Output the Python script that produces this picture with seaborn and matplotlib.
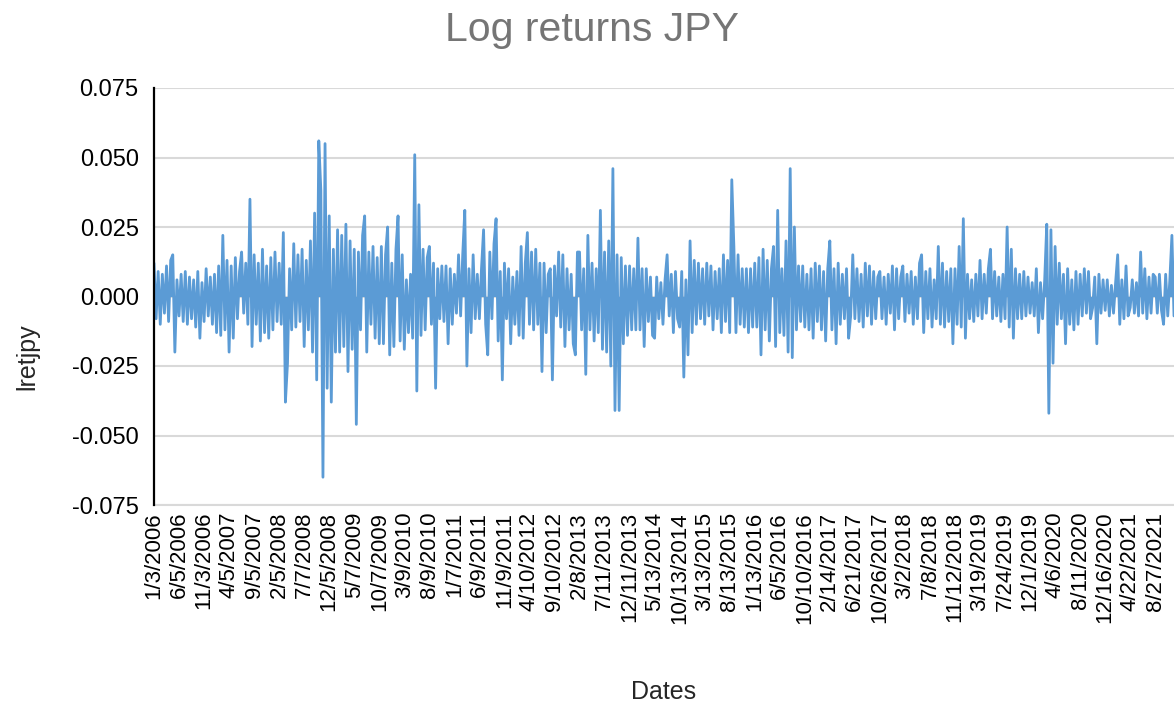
import matplotlib
matplotlib.use("Agg")

import matplotlib.pyplot as plt
import seaborn as sns

# ── data (one row per x-axis label interval) ─────────────────────────────
tick_dates = [
    "1/3/2006", "6/5/2006", "11/3/2006", "4/5/2007", "9/5/2007", "2/5/2008",
    "7/7/2008", "12/5/2008", "5/7/2009", "10/7/2009", "3/9/2010", "8/9/2010",
    "1/7/2011", "6/9/2011", "11/9/2011", "4/10/2012", "9/10/2012", "2/8/2013",
    "7/11/2013", "12/11/2013", "5/13/2014", "10/13/2014", "3/13/2015",
    "8/13/2015", "1/13/2016", "6/5/2016", "10/10/2016", "2/14/2017",
    "6/21/2017", "10/26/2017", "3/2/2018", "7/8/2018", "11/12/2018",
    "3/19/2019", "7/24/2019", "12/1/2019", "4/6/2020", "8/11/2020",
    "12/16/2020", "4/22/2021", "8/27/2021",
]

lretjpy = [
    0.012, -0.008, 0.009, -0.010, 0.008, -0.006, 0.011, -0.009, 0.013, 0.015, -0.020, 0.006,
    -0.007, 0.008, -0.009, 0.009, -0.010, 0.007, -0.008, 0.006, -0.011, 0.009, -0.015, 0.005,
    -0.009, 0.010, -0.007, 0.007, -0.010, 0.008, -0.013, 0.011, -0.014, 0.022, -0.012, 0.013,
    -0.020, 0.011, -0.015, 0.014, -0.008, 0.009, 0.016, -0.006, 0.012, -0.010, 0.035, -0.018,
    0.015, -0.010, 0.012, -0.016, 0.017, -0.013, 0.011, -0.015, 0.014, -0.012, 0.016, -0.009,
    0.012, -0.010, 0.023, -0.038, -0.024, 0.010, -0.012, 0.019, -0.011, 0.015, -0.009, 0.017,
    -0.018, 0.013, -0.012, 0.020, -0.020, 0.030, -0.030, 0.056, 0.038, -0.065, 0.055, -0.033,
    0.029, -0.038, 0.017, -0.020, 0.024, -0.020, 0.022, -0.018, 0.026, -0.027, 0.020, -0.019,
    0.017, -0.046, 0.016, -0.012, 0.022, 0.029, -0.020, 0.016, -0.010, 0.018, -0.015, 0.014,
    -0.017, 0.018, -0.017, 0.015, 0.025, -0.021, 0.012, -0.018, 0.017, 0.029, -0.016, 0.015,
    -0.019, 0.006, -0.013, 0.008, -0.015, 0.051, -0.034, 0.033, -0.014, 0.017, -0.012, 0.014,
    0.018, -0.010, 0.012, -0.033, 0.010, -0.008, 0.011, -0.009, 0.011, -0.017, 0.010, -0.010,
    0.008, -0.006, 0.015, -0.007, 0.015, 0.031, -0.025, 0.010, -0.013, 0.015, -0.008, 0.008,
    -0.008, 0.010, 0.024, -0.010, -0.021, 0.016, -0.008, 0.019, 0.028, -0.016, 0.009, -0.030,
    0.012, -0.008, 0.010, -0.017, 0.007, -0.010, 0.009, -0.014, 0.018, -0.015, 0.012, 0.023,
    -0.010, 0.016, -0.012, 0.017, -0.010, 0.012, -0.027, 0.012, -0.013, 0.008, 0.010, -0.030,
    0.011, -0.007, 0.016, -0.011, 0.015, -0.018, 0.010, -0.012, 0.008, -0.017, -0.021, 0.016,
    0.016, -0.012, 0.010, -0.028, 0.022, -0.012, 0.012, -0.016, 0.010, -0.013, 0.031, -0.019,
    0.016, -0.020, 0.020, -0.025, 0.046, -0.041, 0.015, -0.041, 0.014, -0.017, 0.011, -0.014,
    0.011, -0.012, 0.010, -0.012, 0.021, -0.012, 0.010, -0.018, 0.010, -0.009, 0.007, -0.014,
    -0.015, 0.007, -0.008, 0.005, -0.010, 0.006, 0.015, -0.007, 0.008, -0.013, 0.009, -0.008,
    -0.011, 0.009, -0.029, 0.006, -0.021, 0.020, -0.013, 0.013, -0.010, 0.012, -0.008, 0.010,
    -0.010, 0.012, -0.007, 0.011, -0.012, 0.009, -0.008, 0.010, -0.013, 0.015, -0.009, 0.013,
    -0.013, 0.042, 0.018, -0.013, 0.015, -0.010, 0.010, -0.011, 0.010, -0.013, 0.010, -0.011,
    0.012, -0.011, 0.014, -0.021, 0.017, -0.012, 0.013, -0.016, 0.010, 0.018, -0.018, 0.031,
    -0.013, 0.010, -0.014, 0.020, -0.020, 0.046, -0.022, 0.025, -0.012, 0.011, -0.009, 0.011,
    -0.011, 0.008, -0.012, 0.010, -0.015, 0.012, -0.009, 0.011, -0.012, 0.009, -0.016, 0.010,
    0.020, -0.012, 0.010, -0.017, 0.012, -0.010, 0.008, -0.008, 0.010, -0.015, -0.007, 0.015,
    -0.008, 0.010, -0.009, 0.008, -0.011, 0.012, -0.007, 0.011, -0.010, 0.009, -0.008, 0.007,
    0.009, -0.008, 0.007, -0.010, 0.008, -0.006, 0.011, -0.012, 0.010, -0.008, 0.007, 0.011,
    -0.009, 0.008, -0.006, 0.009, -0.010, 0.007, -0.008, 0.012, 0.015, -0.013, 0.009, -0.008,
    0.010, -0.011, 0.006, -0.008, 0.018, -0.010, 0.012, -0.011, 0.009, -0.009, 0.010, -0.017,
    0.010, -0.010, 0.018, -0.011, 0.028, -0.015, 0.008, -0.008, 0.006, -0.009, 0.008, -0.007,
    0.013, -0.008, 0.008, -0.006, 0.010, 0.017, -0.008, 0.009, -0.007, 0.007, -0.009, 0.008,
    -0.008, 0.025, -0.011, 0.017, -0.015, 0.010, -0.008, 0.008, -0.008, 0.009, -0.007, 0.007,
    -0.006, 0.005, -0.007, 0.010, -0.013, 0.005, -0.008, 0.006, 0.026, -0.042, 0.024, -0.024,
    0.018, -0.010, 0.012, -0.008, 0.008, -0.017, 0.010, -0.010, 0.006, -0.012, 0.009, -0.010,
    0.008, -0.007, 0.010, -0.006, 0.009, -0.008, -0.004, 0.007, -0.017, 0.008, -0.006, 0.006,
    -0.005, 0.006, -0.007, 0.004, -0.006, 0.005, 0.015, -0.010, 0.006, -0.008, 0.011, -0.007,
    -0.004, 0.006, -0.006, 0.005, -0.007, 0.016, -0.006, 0.010, -0.008, 0.007, -0.006, 0.008,
    0.007, -0.006, 0.008, -0.005, -0.010, 0.008, -0.007, 0.006, 0.022, -0.007,
]

y_ticks = [-0.075, -0.050, -0.025, 0.000, 0.025, 0.050, 0.075]

# ── styling ──────────────────────────────────────────────────────────────
sns.set_style("white")
plt.rcParams["font.family"] = ["Liberation Sans", "DejaVu Sans"]

LINE_BLUE = "#5B9BD5"
GRID_GREY = "#D9D9D9"
STEP = 12  # points between consecutive date labels

fig = plt.figure(figsize=(11.74, 7.03), dpi=100)
ax = fig.add_axes([154 / 1174, 1 - 505 / 703, 1020 / 1174, 417 / 703])

idx = list(range(len(lretjpy)))
# dense daily series reads as a solid band: shade line-to-zero, then the line
ax.fill_between(idx, lretjpy, 0, color=LINE_BLUE, linewidth=0, zorder=2)
sns.lineplot(x=idx, y=lretjpy, ax=ax, color=LINE_BLUE, linewidth=2.0, zorder=3)

ax.set_xlim(0, len(lretjpy) - 1)
ax.set_ylim(-0.075, 0.075)
ax.set_yticks(y_ticks)
ax.set_yticklabels([f"{v:.3f}" for v in y_ticks])
ax.set_xticks([i * STEP for i in range(len(tick_dates))])
ax.set_xticklabels(tick_dates, rotation=90)

ax.tick_params(axis="y", length=0, pad=11, labelsize=17, colors="#000000")
ax.tick_params(axis="x", length=0, pad=5, labelsize=16, colors="#000000")

ax.yaxis.grid(True, color=GRID_GREY, linewidth=1.5, zorder=0)
ax.xaxis.grid(False)

for side in ("top", "right"):
    ax.spines[side].set_visible(False)
ax.spines["bottom"].set_color(GRID_GREY)
ax.spines["bottom"].set_linewidth(1.5)
ax.spines["left"].set_color("#000000")
ax.spines["left"].set_linewidth(1.6)
ax.spines["left"].set_zorder(4)

ax.set_title("Log returns JPY", fontsize=29.5, color="#757575", pad=0,
             x=(592 - 154) / 1020, y=(505 - 30) / 417, va="center")
ax.set_xlabel("Dates", fontsize=18)
ax.set_ylabel("lretjpy", fontsize=18)
ax.xaxis.set_label_coords(0.5, -0.42)
ax.yaxis.set_label_coords(-0.112, 0.355)

fig.savefig("out.png", dpi=100)
